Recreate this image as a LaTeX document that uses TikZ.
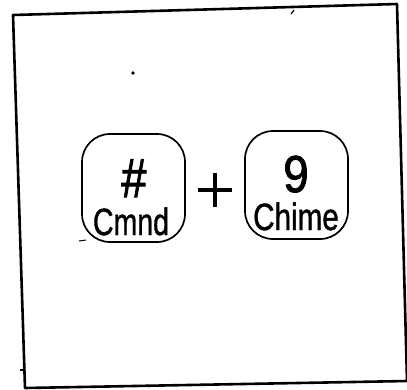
\documentclass[tikz,border=0pt]{standalone}
\usepackage{fontspec}
\setmainfont{Liberation Sans}
\newfontfamily\keyfont[FakeBold=1.2]{Liberation Sans}
\newfontfamily\symfont[FakeBold=1.8]{Liberation Sans}
\begin{document}
\begin{tikzpicture}[x=1pt,y=-1pt,
  keybox/.style={draw,line width=1.7pt,rounded corners=28pt},
  keysym/.style={inner sep=0pt,font=\symfont\fontsize{52}{52}\selectfont},
  keylabel/.style={inner sep=0pt,font=\keyfont\fontsize{38}{38}\selectfont}]
\useasboundingbox (0,0) rectangle (407,389);
\clip (0,0) rectangle (407,389);
% frame
\draw[line width=2.6pt,line join=round] (13,15) -- (397,4) -- (407,381) -- (25,388) -- cycle;
% keys
\draw[keybox] (82,134) rectangle (185,242);
\draw[keybox] (245,131) rectangle (348,239);
\node[keysym,anchor=base,font=\symfont\fontsize{55}{55}\selectfont] (hash) at (134,197) {\scalebox{0.82}[1]{\#}};
\node[keylabel,anchor=base] (cmnd) at (131,235) {\scalebox{0.75}[1]{Cmnd}};
\node[keysym,anchor=base] (nine) at (296,192) {\scalebox{0.88}[1]{9}};
\node[keylabel,anchor=base] (chime) at (296,230) {\scalebox{0.78}[1]{Chime}};
% plus
\draw[line width=4.5pt] (198,190) -- (232,190);
\draw[line width=4.5pt] (215,173) -- (215,207);
% scan marks
\fill (133,73) circle (1.8pt);
\draw[line width=1.2pt] (291,14) -- (294,10);
\draw[line width=1pt] (79,241) -- (86,240);
\draw[line width=1.2pt] (20,370) -- (25,370);
\end{tikzpicture}
\end{document}
